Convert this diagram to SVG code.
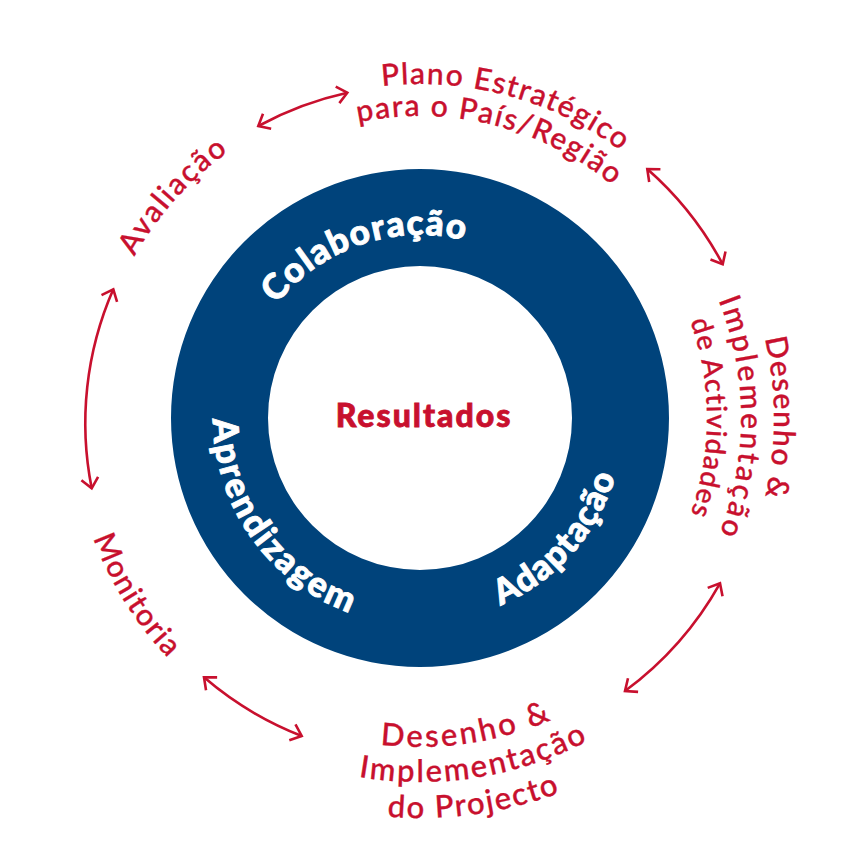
<svg xmlns="http://www.w3.org/2000/svg" xmlns:xlink="http://www.w3.org/1999/xlink" width="849" height="849" viewBox="0 0 849 849">
  <style>
    .outer { font-family: Lato, "Open Sans", sans-serif; font-weight: 500; font-size: 30px; fill: #C8102E; stroke: #C8102E; stroke-width: 0.35px; letter-spacing: 1.5px; }
    .ringtxt { font-family: Lato, "Open Sans", sans-serif; font-weight: 900; font-size: 35px; fill: #ffffff; stroke: #ffffff; stroke-width: 0.9px; letter-spacing: 1.3px; }
    .center { font-family: Lato, "Open Sans", sans-serif; font-weight: 900; font-size: 32px; fill: #C8102E; stroke: #C8102E; stroke-width: 0.8px; letter-spacing: 2px; }
    .link { fill: none; stroke: #C8102E; stroke-width: 2.6; marker-start: url(#chev); marker-end: url(#chev); }
  </style>
  <defs>
    <marker id="chev" markerUnits="userSpaceOnUse" orient="auto-start-reverse" refX="0" refY="0" markerWidth="30" markerHeight="30" viewBox="-15 -15 30 30" overflow="visible">
      <path d="M -10 -8.5 L 0 0 L -10 8.5" fill="none" stroke="#C8102E" stroke-width="2.6" stroke-linejoin="miter"/>
    </marker>
    <!-- ring label baselines -->
    <path id="pColab" d="M 249.6 351.2 A 183 183 0 0 1 515.3 261.8"/>
    <path id="pAprend" d="M 219.1 367.9 A 207 207 0 0 0 405.6 624.5"/>
    <path id="pAdapt" d="M 432.4 621.6 A 204 204 0 0 0 623.6 405.6"/>
    <!-- outer label baselines -->
    <path id="pPlano1" d="M 307.4 103.5 A 334 334 0 0 1 677.0 204.6"/>
    <path id="pPlano2" d="M 311.8 136.1 A 302 302 0 0 1 647.9 219.9"/>
    <path id="pAct1" d="M 740.8 268.4 A 354 354 0 0 1 740.8 567.6"/>
    <path id="pAct2" d="M 683.0 233.9 A 321 321 0 0 1 683.0 602.1"/>
    <path id="pAct3" d="M 655.1 253.4 A 287 287 0 0 1 655.1 582.6"/>
    <path id="pAval" d="M 105.5 324.8 A 328 328 0 0 1 289.2 117.2"/>
    <path id="pMon" d="M 74.6 460.4 A 348 348 0 0 0 230.5 709.9"/>
    <path id="pProj1" d="M 326.6 733.4 A 329 329 0 0 0 601.6 692.4"/>
    <path id="pProj2" d="M 319.7 767.9 A 364 364 0 0 0 623.5 719.8"/>
    <path id="pProj3" d="M 336.8 809.3 A 400 400 0 0 0 607.8 771.2"/>
  </defs>

  <rect width="849" height="849" fill="#ffffff"/>

  <!-- central ring -->
  <g id="ring">
    <path d="M 420 169 A 249 249 0 1 1 420 667 A 249 249 0 1 1 420 169 Z M 420 266 A 152 152 0 1 0 420 570 A 152 152 0 1 0 420 266 Z" fill="#00437B" fill-rule="evenodd"/>
  </g>

  <g id="resultados">
    <text class="center" x="424" y="427" text-anchor="middle">Resultados</text>
  </g>

  <g id="colaboracao">
    <text class="ringtxt" text-anchor="middle"><textPath xlink:href="#pColab" href="#pColab" startOffset="50%">Colaboração</textPath></text>
  </g>
  <g id="aprendizagem">
    <text class="ringtxt" text-anchor="middle" style="letter-spacing:2.4px"><textPath xlink:href="#pAprend" href="#pAprend" startOffset="49.5%">Aprendizagem</textPath></text>
  </g>
  <g id="adaptacao">
    <text class="ringtxt" text-anchor="middle"><textPath xlink:href="#pAdapt" href="#pAdapt" startOffset="50%">Adaptação</textPath></text>
  </g>

  <!-- stages of the cycle -->
  <g id="plano">
    <text class="outer" text-anchor="middle"><textPath xlink:href="#pPlano1" href="#pPlano1" startOffset="50%">Plano Estratégico</textPath></text>
    <text class="outer" text-anchor="middle"><textPath xlink:href="#pPlano2" href="#pPlano2" startOffset="50%">para o País/Região</textPath></text>
  </g>
  <g id="actividades">
    <text class="outer" text-anchor="middle"><textPath xlink:href="#pAct1" href="#pAct1" startOffset="50%">Desenho &amp;</textPath></text>
    <text class="outer" text-anchor="middle" style="letter-spacing:3px"><textPath xlink:href="#pAct2" href="#pAct2" startOffset="50%">Implementação</textPath></text>
    <text class="outer" text-anchor="middle" style="font-size:28px;letter-spacing:1.3px"><textPath xlink:href="#pAct3" href="#pAct3" startOffset="50%">de Actividades</textPath></text>
  </g>
  <g id="projecto">
    <text class="outer" text-anchor="middle" style="font-size:31px;letter-spacing:2.8px"><textPath xlink:href="#pProj1" href="#pProj1" startOffset="50%">Desenho &amp;</textPath></text>
    <text class="outer" text-anchor="middle" style="font-size:31px;letter-spacing:2.2px"><textPath xlink:href="#pProj2" href="#pProj2" startOffset="50%">Implementação</textPath></text>
    <text class="outer" text-anchor="middle" style="font-size:31px;letter-spacing:1.8px"><textPath xlink:href="#pProj3" href="#pProj3" startOffset="50%">do Projecto</textPath></text>
  </g>
  <g id="monitoria">
    <text class="outer" text-anchor="middle"><textPath xlink:href="#pMon" href="#pMon" startOffset="50%">Monitoria</textPath></text>
  </g>
  <g id="avaliacao">
    <text class="outer" text-anchor="middle" style="letter-spacing:2px"><textPath xlink:href="#pAval" href="#pAval" startOffset="51%">Avaliação</textPath></text>
  </g>

  <!-- two-way arrows between stages -->
  <g id="connectors">
    <path class="link" d="M 258.3 126 A 335 335 0 0 1 347.3 92.7"/>
    <path class="link" d="M 647.3 169 A 338 338 0 0 1 722.7 264.3"/>
    <path class="link" d="M 720 583.3 A 341 341 0 0 1 625 691"/>
    <path class="link" d="M 301.7 736 A 338 338 0 0 1 204 677.3"/>
    <path class="link" d="M 91.7 488.3 A 334 334 0 0 1 113.3 289.3"/>
  </g>
</svg>
